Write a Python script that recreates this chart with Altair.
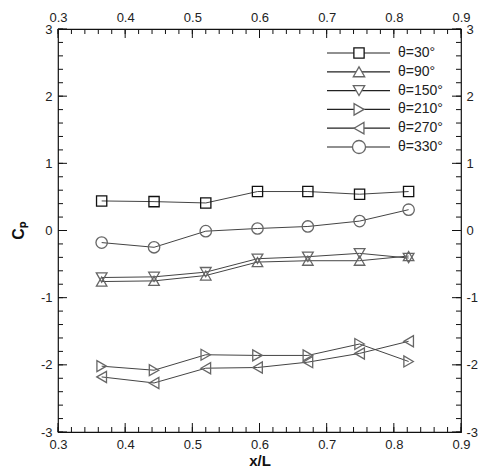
import altair as alt
import pandas as pd

# Pressure coefficient along the body at several circumferential angles
x_over_l = [0.365, 0.443, 0.520, 0.597, 0.672, 0.749, 0.822]
cp_30 = [0.44, 0.43, 0.41, 0.58, 0.58, 0.54, 0.58]
cp_90 = [-0.76, -0.75, -0.67, -0.47, -0.45, -0.45, -0.38]
cp_150 = [-0.70, -0.69, -0.62, -0.42, -0.39, -0.34, -0.41]
cp_210 = [-2.02, -2.08, -1.85, -1.86, -1.86, -1.69, -1.95]
cp_270 = [-2.18, -2.27, -2.05, -2.04, -1.96, -1.83, -1.65]
cp_330 = [-0.18, -0.25, -0.01, 0.03, 0.06, 0.14, 0.31]

series_labels = ["θ=30°", "θ=90°", "θ=150°", "θ=210°", "θ=270°", "θ=330°"]
series_values = [cp_30, cp_90, cp_150, cp_210, cp_270, cp_330]
series_shapes = ["square", "triangle-up", "triangle-down", "triangle-right", "triangle-left", "circle"]
series_strokes = ["#111111", "#666666", "#666666", "#666666", "#666666", "#666666"]
series_sizes = [105, 130, 130, 130, 130, 170]

x_major = [0.3, 0.4, 0.5, 0.6, 0.7, 0.8, 0.9]
x_minor = [round(0.3 + 0.02 * i, 2) for i in range(31)]
y_major = [-3, -2, -1, 0, 1, 2, 3]
y_minor = [round(-3 + 0.2 * i, 1) for i in range(31)]

W, H = 403, 403
FONT = "Liberation Sans"

rows = []
for lab, vals in zip(series_labels, series_values):
    for xv, cv in zip(x_over_l, vals):
        rows.append({"series": lab, "x": xv, "cp": cv})
df = pd.DataFrame(rows)

xs = alt.Scale(domain=[0.3, 0.9], nice=False, zero=False)
ys = alt.Scale(domain=[-3, 3], nice=False, zero=False)

axis_common = dict(ticks=False, tickSize=0, domain=False, grid=False,
                   labelFont=FONT, labelFontSize=13, labelColor="#222222",
                   labelFlush=False, labelOverlap=False)

# plain hyphen for negative numbers
y_label_expr = "datum.value + ''"

ax_bottom = alt.Axis(orient="bottom", values=x_major, format=".1f", labelPadding=6,
                     title="x/L", titleFont=FONT, titleFontSize=15, titleFontWeight="bold",
                     titleColor="#111111", titleX=W / 2, titleY=33,
                     titleBaseline="alphabetic", **axis_common)
ax_left = alt.Axis(orient="left", values=y_major, labelExpr=y_label_expr, labelPadding=6,
                   title="Cₚ", titleFont=FONT, titleFontSize=16, titleFontWeight="bold",
                   titleColor="#111111", titleX=-40, titleY=H / 2, titleAngle=270,
                   titleAlign="center", titleBaseline="middle", **axis_common)
ax_top = alt.Axis(orient="top", values=x_major, format=".1f", labelPadding=5,
                  title=None, **axis_common)
ax_right = alt.Axis(orient="right", values=y_major, labelExpr=y_label_expr, labelPadding=5,
                    title=None, **axis_common)

shape_scale = alt.Scale(domain=series_labels, range=series_shapes)
stroke_scale = alt.Scale(domain=series_labels, range=series_strokes)
size_scale = alt.Scale(domain=series_labels, range=series_sizes)

lines = alt.Chart(df).mark_line(color="#444444", strokeWidth=1).encode(
    x=alt.X("x:Q", scale=xs, axis=ax_bottom),
    y=alt.Y("cp:Q", scale=ys, axis=ax_left),
    detail="series:N",
)

points = alt.Chart(df).mark_point(filled=False, strokeWidth=1.3, opacity=1).encode(
    x=alt.X("x:Q", scale=xs, axis=None),
    y=alt.Y("cp:Q", scale=ys, axis=None),
    shape=alt.Shape("series:N", scale=shape_scale, legend=None),
    stroke=alt.Stroke("series:N", scale=stroke_scale, legend=None),
    size=alt.Size("series:N", scale=size_scale, legend=None),
)

# invisible layer carrying the top and right axes
mirror = alt.Chart(df).mark_point(opacity=0).encode(
    x=alt.X("x:Q", scale=xs, axis=ax_top),
    y=alt.Y("cp:Q", scale=ys, axis=ax_right),
)


def x_ticks(vals, at_bottom, length):
    d = pd.DataFrame({"v": vals})
    y0 = H if at_bottom else 0
    y1 = H - length if at_bottom else length
    return alt.Chart(d).mark_rule(color="#111111", strokeWidth=1).encode(
        x=alt.X("v:Q", scale=xs, axis=None),
        y=alt.value(y0), y2=alt.value(y1),
    )


def y_ticks(vals, at_right, length):
    d = pd.DataFrame({"v": vals})
    x0 = W if at_right else 0
    x1 = W - length if at_right else length
    return alt.Chart(d).mark_rule(color="#111111", strokeWidth=1).encode(
        y=alt.Y("v:Q", scale=ys, axis=None),
        x=alt.value(x0), x2=alt.value(x1),
    )


ticks = [
    x_ticks(x_minor, True, 5), x_ticks(x_major, True, 9),
    x_ticks(x_minor, False, 5), x_ticks(x_major, False, 9),
    y_ticks(y_minor, False, 5), y_ticks(y_major, False, 9),
    y_ticks(y_minor, True, 5), y_ticks(y_major, True, 9),
]

# legend block in the upper right corner
leg_layers = []
leg_top, leg_step = 24, 18.8
leg_x0, leg_x1, leg_mark, leg_text = 269, 332, 301, 340
for i, lab in enumerate(series_labels):
    yy = leg_top + i * leg_step
    d = pd.DataFrame({"series": [lab]})
    base = alt.Chart(d)
    leg_layers.append(base.mark_rule(color="#222222", strokeWidth=1.2).encode(
        x=alt.value(leg_x0), x2=alt.value(leg_x1), y=alt.value(yy)))
    leg_layers.append(base.mark_point(
        shape=series_shapes[i], filled=True, fill="white", stroke=series_strokes[i],
        strokeWidth=1.3, size=series_sizes[i], opacity=1).encode(
        x=alt.value(leg_mark), y=alt.value(yy)))
    leg_layers.append(base.mark_text(
        align="left", baseline="middle", font=FONT, fontSize=14,
        color="#222222").encode(
        x=alt.value(leg_text), y=alt.value(yy), text="series:N"))

chart = alt.layer(lines, points, mirror, *ticks, *leg_layers).resolve_axis(
    x="independent", y="independent"
).properties(
    width=W, height=H,
    autosize=alt.AutoSizeParams(type="none"),
    padding={"left": 58, "top": 29, "right": 18, "bottom": 35},
    background="white",
).configure_view(stroke="#111111", strokeWidth=1.2)

chart.save("out.html", embed_options={"renderer": "svg", "actions": False})
